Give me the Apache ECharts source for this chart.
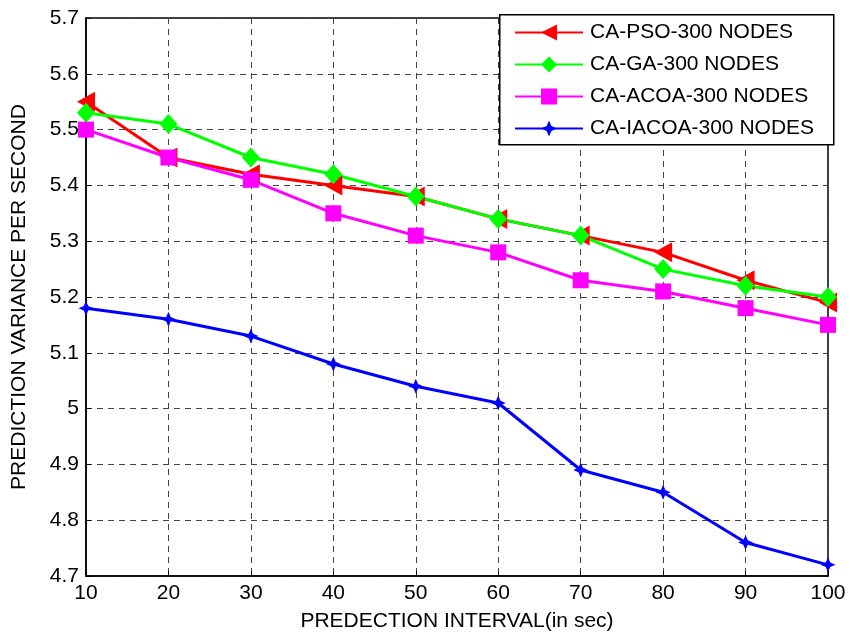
<!DOCTYPE html>
<html>
<head>
<meta charset="utf-8">
<script src="https://cdn.jsdelivr.net/npm/echarts@6/dist/echarts.min.js"></script>
<style>
  html, body { margin: 0; padding: 0; background: #fff; }
  #chart { width: 850px; height: 635px; }
</style>
</head>
<body>
<div id="chart"></div>
<script>
// Prediction interval (seconds)
const intervals = [10, 20, 30, 40, 50, 60, 70, 80, 90, 100];

// Prediction variance per second for each algorithm
const caPso   = [5.55, 5.45, 5.42, 5.40, 5.38, 5.34, 5.31, 5.28, 5.23, 5.19];
const caGa    = [5.53, 5.51, 5.45, 5.42, 5.38, 5.34, 5.31, 5.25, 5.22, 5.20];
const caAcoa  = [5.50, 5.45, 5.41, 5.35, 5.31, 5.28, 5.23, 5.21, 5.18, 5.15];
const caIacoa = [5.18, 5.16, 5.13, 5.08, 5.04, 5.01, 4.89, 4.85, 4.76, 4.72];

const seriesNames = ['CA-PSO-300 NODES', 'CA-GA-300 NODES', 'CA-ACOA-300 NODES', 'CA-IACOA-300 NODES'];

const FONT = 'Liberation Sans, Arial, sans-serif';
const FONT_SIZE = 21;

// left-pointing triangle and a small four-point star
const leftTriangle = 'path://M0,5 L10,0 L10,10 Z';
const star4 = 'path://M5,0 L6.5,3.5 L10,5 L6.5,6.5 L5,10 L3.5,6.5 L0,5 L3.5,3.5 Z';

function pairs(values) {
  return intervals.map((x, i) => [x, values[i]]);
}

function makeSeries(name, values, color, symbol, size) {
  return {
    name: name,
    type: 'line',
    data: pairs(values),
    symbol: symbol,
    symbolSize: size,
    showAllSymbol: true,
    z: 2,
    lineStyle: { color: color, width: 3 },
    itemStyle: { color: color, borderWidth: 0 },
    emphasis: { disabled: true },
    animation: false
  };
}

const chart = echarts.init(document.getElementById('chart'), null, { renderer: 'canvas' });

chart.setOption({
  backgroundColor: '#fff',
  animation: false,
  grid: {
    left: 86, right: 22, top: 18, bottom: 59,
    containLabel: false,
    outerBoundsMode: 'none',
    show: true, borderColor: '#000', borderWidth: 1.5, backgroundColor: 'transparent'
  },
  // legend frame
  graphic: [{
    type: 'rect',
    left: 499, top: 14, z: 10,
    shape: { width: 334, height: 130 },
    style: { fill: '#fff', stroke: '#000', lineWidth: 1.5 }
  }],
  legend: {
    data: seriesNames,
    orient: 'vertical',
    left: 514, top: 22,
    padding: 0,
    z: 20,
    itemWidth: 68, itemHeight: 20, itemGap: 11,
    textStyle: { fontFamily: FONT, fontSize: FONT_SIZE, color: '#000', padding: [0, 0, 0, 2] },
    selectedMode: false
  },
  xAxis: {
    type: 'value',
    min: 10, max: 100, interval: 10,
    name: 'PREDECTION INTERVAL(in sec)',
    nameLocation: 'middle', nameGap: 35,
    nameTextStyle: { fontFamily: FONT, fontSize: FONT_SIZE, color: '#000' },
    axisLine: { show: true, lineStyle: { color: '#000', width: 1.5 } },
    axisTick: { show: true, inside: true, length: 5, lineStyle: { color: '#000' } },
    axisLabel: { fontFamily: FONT, fontSize: FONT_SIZE, color: '#000', margin: 7 },
    splitLine: { show: true, lineStyle: { color: '#444', type: [6, 5], width: 1 } }
  },
  yAxis: {
    type: 'value',
    min: 4.7, max: 5.7, interval: 0.1,
    name: 'PREDICTION VARIANCE PER SECOND',
    nameLocation: 'middle', nameGap: 56,
    nameTextStyle: { fontFamily: FONT, fontSize: FONT_SIZE, color: '#000' },
    axisLine: { show: true, lineStyle: { color: '#000', width: 1.5 } },
    axisTick: { show: true, inside: true, length: 5, lineStyle: { color: '#000' } },
    axisLabel: {
      fontFamily: FONT, fontSize: FONT_SIZE, color: '#000', margin: 7,
      formatter: v => String(Math.round(v * 10) / 10)
    },
    splitLine: { show: true, lineStyle: { color: '#444', type: [6, 5], width: 1 } }
  },
  series: [
    makeSeries(seriesNames[0], caPso, '#ff0000', leftTriangle, [18, 20]),
    makeSeries(seriesNames[1], caGa, '#00ff00', 'diamond', [18, 20]),
    makeSeries(seriesNames[2], caAcoa, '#ff00ff', 'rect', 16),
    makeSeries(seriesNames[3], caIacoa, '#0000ff', star4, 15)
  ]
});
</script>
</body>
</html>
